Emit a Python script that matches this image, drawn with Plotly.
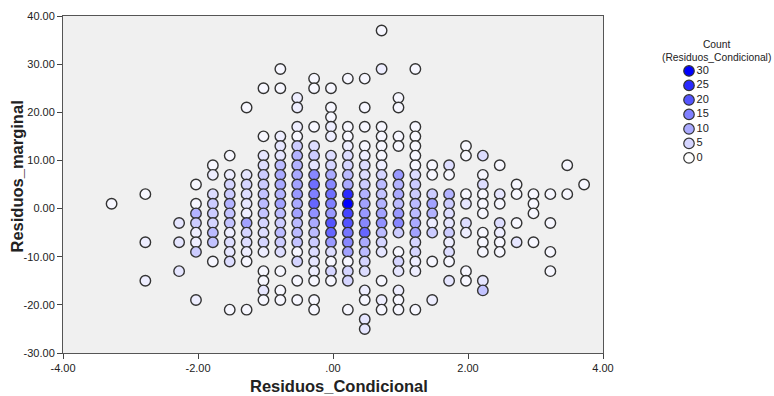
import plotly.graph_objects as go

# ---- data: one entry per x column (Residuos_Condicional) ----
x_cols = [-3.28, -2.78, -2.28, -2.03, -1.78, -1.53, -1.28, -1.03, -0.78, -0.53,
          -0.28, -0.03, 0.22, 0.47, 0.72, 0.97, 1.22, 1.47, 1.72, 1.97,
          2.22, 2.47, 2.72, 2.97, 3.22, 3.47, 3.72]

y_cols = [
    [1],
    [3, -7, -15],
    [-3, -7, -13],
    [5, 1, -1, -3, -5, -7, -9, -19],
    [9, 7, 3, 1, -1, -3, -5, -7, -11],
    [11, 7, 5, 3, 1, -1, -3, -5, -7, -9, -11, -21],
    [21, 7, 5, 3, 1, -1, -3, -5, -7, -9, -11, -21],
    [25, 15, 11, 9, 7, 5, 3, 1, -1, -3, -5, -7, -9, -13, -15, -17, -19],
    [29, 25, 15, 13, 11, 9, 7, 5, 3, 1, -1, -3, -5, -7, -9, -13, -17, -19],
    [23, 21, 17, 15, 13, 11, 9, 7, 5, 3, 1, -1, -3, -5, -7, -9, -11, -15, -19],
    [27, 25, 17, 13, 11, 9, 7, 5, 3, 1, -1, -3, -5, -7, -9, -11, -13, -15, -19, -21],
    [25, 21, 19, 17, 15, 11, 9, 7, 5, 3, 1, -1, -3, -5, -7, -9, -11, -13, -15],
    [27, 17, 15, 13, 11, 9, 7, 5, 3, 1, -1, -3, -5, -7, -9, -11, -13, -15, -21],
    [27, 21, 17, 13, 11, 9, 7, 5, 3, 1, -1, -3, -5, -7, -9, -11, -13, -17, -19, -23, -25],
    [37, 29, 17, 15, 13, 11, 9, 7, 5, 3, 1, -1, -3, -5, -7, -9, -15, -19, -21],
    [23, 21, 15, 13, 7, 5, 3, 1, -1, -3, -5, -9, -11, -13, -17, -19, -21],
    [29, 17, 15, 13, 11, 9, 7, 5, 3, 1, -1, -3, -5, -7, -9, -11, -13, -21],
    [9, 7, 3, 1, -1, -3, -5, -11, -19],
    [9, 7, 3, 1, -1, -3, -5, -7, -9, -11, -15],
    [13, 11, 3, 1, -3, -5, -13, -15],
    [11, 7, 5, 3, 1, -1, -5, -7, -9, -15, -17],
    [9, 3, 1, -3, -5, -7, -9],
    [5, 3, -3, -7],
    [3, 1, -1, -7],
    [3, -3, -9, -13],
    [9, 3],
    [5],
]

count_cols = [
    [1],
    [1, 2, 2],
    [3, 3, 3],
    [1, 1, 9, 6, 2, 2, 6, 2],
    [1, 2, 4, 6, 6, 5, 8, 7, 1],
    [1, 2, 5, 6, 9, 7, 7, 2, 4, 3, 4, 1],
    [1, 3, 5, 4, 3, 2, 11, 5, 4, 2, 1, 1],
    [1, 1, 3, 4, 6, 6, 7, 8, 7, 5, 4, 5, 2, 1, 1, 3, 1],
    [1, 1, 2, 3, 3, 8, 10, 10, 9, 11, 8, 6, 8, 6, 4, 1, 1, 1],
    [2, 2, 2, 1, 6, 9, 9, 10, 11, 12, 10, 11, 8, 8, 7, 1, 5, 1, 1],
    [1, 1, 1, 4, 6, 3, 14, 17, 15, 18, 13, 10, 8, 6, 4, 3, 2, 1, 1, 1],
    [1, 1, 1, 2, 2, 4, 5, 10, 14, 17, 15, 12, 20, 18, 12, 4, 1, 5, 1],
    [1, 1, 1, 2, 4, 5, 8, 10, 25, 30, 22, 20, 16, 14, 11, 1, 5, 5, 1],
    [1, 1, 1, 1, 2, 4, 4, 6, 9, 11, 12, 14, 18, 10, 8, 5, 4, 2, 1, 3, 3],
    [1, 2, 1, 1, 1, 1, 2, 5, 8, 7, 9, 11, 13, 8, 5, 3, 1, 2, 1],
    [1, 1, 1, 1, 12, 9, 10, 8, 12, 14, 6, 1, 5, 3, 2, 1, 1],
    [1, 1, 1, 1, 1, 1, 4, 6, 6, 8, 8, 10, 11, 5, 5, 2, 2, 1],
    [1, 1, 6, 11, 9, 2, 6, 1, 2],
    [4, 1, 9, 6, 4, 3, 6, 2, 4, 1, 3],
    [1, 1, 1, 3, 4, 2, 1, 1],
    [4, 1, 4, 1, 1, 1, 1, 1, 1, 3, 7],
    [1, 3, 1, 4, 2, 1, 1],
    [1, 1, 1, 3],
    [1, 1, 1, 1],
    [1, 1, 1, 1],
    [1, 1],
    [1],
]

legend_levels = [30, 25, 20, 15, 10, 5, 0]

y_tickvals = [40, 30, 20, 10, 0, -10, -20, -30]
y_ticktext = ["40.00", "30.00", "20.00", "10.00", "0.00", "-10.00", "-20.00", "-30.00"]
x_tickvals = [-4, -2, 0, 2, 4]
x_ticktext = ["-4.00", "-2.00", ".00", "2.00", "4.00"]

# ---- flatten ----
xs, ys, cs = [], [], []
for xv, yl, cl in zip(x_cols, y_cols, count_cols):
    if len(yl) != len(cl):
        raise ValueError(f"length mismatch at x={xv}: {len(yl)} vs {len(cl)}")
    for yv, cv in zip(yl, cl):
        xs.append(xv)
        ys.append(yv)
        cs.append(cv)

scale = [[0, "#ffffff"], [1, "#0000ff"]]
FONT = "Liberation Sans, Arial, sans-serif"

fig = go.Figure()
fig.add_trace(go.Scatter(
    x=xs, y=ys, mode="markers",
    marker=dict(size=10.5, color=cs, colorscale=scale, cmin=0, cmax=30,
                line=dict(color="#333333", width=1.4)),
    showlegend=False, hoverinfo="x+y+text", text=[f"Count: {c}" for c in cs],
))

# legend drawn as a small marker+text trace on its own axes
fig.add_trace(go.Scatter(
    x=[0] * len(legend_levels), y=list(range(len(legend_levels))),
    mode="markers+text", text=[str(v) for v in legend_levels],
    textposition="middle right", textfont=dict(size=11, color="#222", family=FONT),
    marker=dict(size=10.5, color=legend_levels, colorscale=scale, cmin=0, cmax=30,
                line=dict(color="#333333", width=1.2)),
    xaxis="x2", yaxis="y2", showlegend=False, hoverinfo="skip", cliponaxis=False,
))

W, H = 774, 396
L, R, T, B = 63, 0, 16, 43
plot_w = W - L - R
plot_h = H - T - B
main_right = 603

def px_x(p):
    return (p - L) / plot_w

def px_y(p):
    return (H - B - p) / plot_h

fig.update_layout(
    width=W, height=H,
    margin=dict(l=L, r=R, t=T, b=B, pad=0, autoexpand=False),
    paper_bgcolor="white",
    plot_bgcolor="white",
    font=dict(family=FONT, size=11, color="#222"),
    showlegend=False,
    xaxis=dict(
        domain=[0, px_x(main_right)],
        range=[-4, 4], tickvals=x_tickvals, ticktext=x_ticktext,
        ticks="outside", ticklen=5, tickcolor="#444", showgrid=False, zeroline=False,
        showline=True, linecolor="#555", linewidth=1, mirror=True,
        tickfont=dict(size=11, color="#222"), automargin=False,
    ),
    yaxis=dict(
        range=[-30, 40], tickvals=y_tickvals, ticktext=y_ticktext,
        ticks="outside", ticklen=5, tickcolor="#444", showgrid=False, zeroline=False,
        showline=True, linecolor="#555", linewidth=1, mirror=True,
        tickfont=dict(size=11, color="#222"), automargin=False,
    ),
    xaxis2=dict(domain=[px_x(660), 1], range=[-29, 85], visible=False,
                fixedrange=True, anchor="y2"),
    yaxis2=dict(domain=[0, 1], range=[19.45, -3.79], visible=False,
                fixedrange=True, anchor="x2"),
    shapes=[dict(type="rect", xref="x domain", yref="y domain", x0=0, x1=1, y0=0, y1=1,
                 fillcolor="#f0f0f0", line=dict(width=0), layer="below")],
    annotations=[
        dict(text="Count<br>(Residuos_Condicional)", xref="paper", yref="paper",
             x=px_x(716), y=px_y(50.5), xanchor="center", yanchor="middle",
             showarrow=False, font=dict(size=10.3, color="#222")),
        dict(text="<b>Residuos_Condicional</b>", xref="paper", yref="paper",
             x=px_x(339), y=px_y(386), xanchor="center", yanchor="middle",
             showarrow=False, font=dict(size=16.5, color="#222")),
        dict(text="<b>Residuos_marginal</b>", xref="paper", yref="paper",
             x=px_x(17), y=px_y(176.5), xanchor="center", yanchor="middle",
             textangle=-90, showarrow=False, font=dict(size=16.5, color="#222")),
    ],
)

fig.write_html("out.html")
